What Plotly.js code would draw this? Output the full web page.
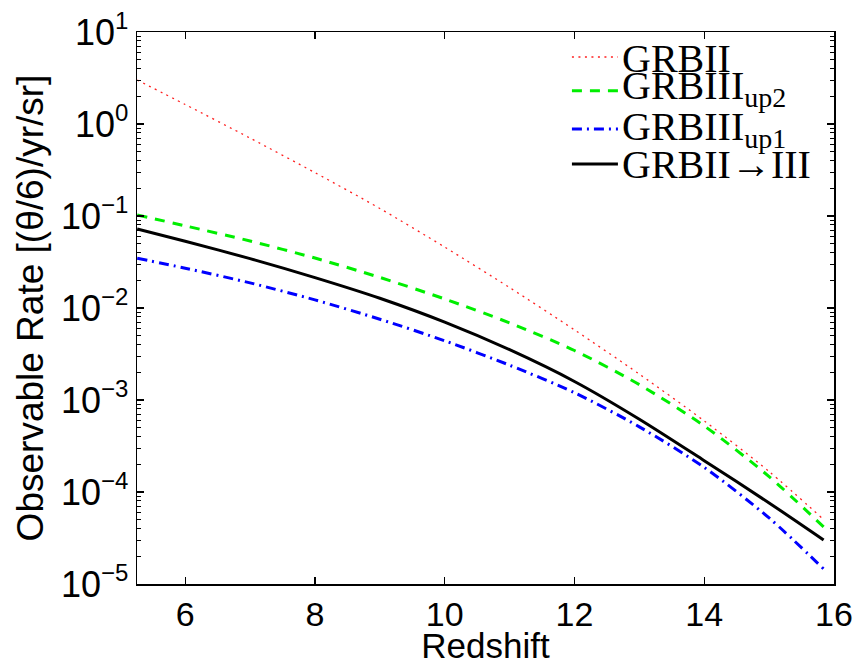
<!DOCTYPE html>
<html>
<head>
<meta charset="utf-8">
<script src="https://cdn.plot.ly/plotly-3.0.1.min.js"></script>
<style>html,body{margin:0;padding:0;background:#fff;}#chart{width:859px;height:665px;}</style>
</head>
<body>
<div id="chart"></div>
<script>
// Redshift samples
const redshift = [5.26, 6, 7, 8, 9, 10, 11, 12, 13, 14, 15, 15.84];
// Observable rate [(theta/6)/yr/sr]
const grbII      = [3.006, 1.629, 0.703, 0.296, 0.1208, 0.0459, 0.01667, 0.00578, 0.00191, 5.92e-4, 1.67e-4, 5.02e-5];
const grbIIIup2  = [0.1026, 0.0782, 0.0535, 0.0349, 0.0215, 0.01253, 0.00689, 0.00345, 0.00147, 5.22e-4, 1.47e-4, 4.17e-5];
const grbIIIup1  = [0.0347, 0.0271, 0.01875, 0.01225, 0.00755, 0.00440, 0.00239, 0.00120, 5.11e-4, 1.85e-4, 5.22e-5, 1.46e-5];
const grbIItoIII = [0.0723, 0.0532, 0.0344, 0.0214, 0.01276, 0.00702, 0.00352, 0.00159, 6.18e-4, 2.19e-4, 7.60e-5, 3.01e-5];

const xTicks = [6, 8, 10, 12, 14, 16];
const yExps = [-5, -4, -3, -2, -1, 0, 1];
const legendNames = ['GRBII', 'GRBIII<sub>up2</sub>', 'GRBIII<sub>up1</sub>', 'GRBII\u2192III'];

const styles = [
  {color: '#ff2020', width: 1.3, dash: '2px,4.5px'},
  {color: '#00ee00', width: 3, dash: '10px,8px'},
  {color: '#0000ff', width: 3, dash: '10px,5px,2px,5px'},
  {color: '#000000', width: 3, dash: 'solid'}
];
const series = [grbII, grbIIIup2, grbIIIup1, grbIItoIII];

const traces = series.map((ys, i) => ({
  x: redshift, y: ys, type: 'scatter', mode: 'lines',
  line: Object.assign({shape: 'spline', smoothing: 0.8}, styles[i]),
  name: legendNames[i], showlegend: false, hoverinfo: 'skip'
}));

const yTickVals = yExps.map(e => Math.pow(10, e));
const yTickText = yExps.map(e => '10<sup><span style="font-size:24px">' + (e < 0 ? '\u2212' + (-e) : e) + '</span></sup>');
const minorVals = [];
for (let e = -5; e < 1; e++) for (let m = 2; m <= 9; m++) minorVals.push(m * Math.pow(10, e));

// custom legend (text + sample lines)
const legX0 = 0.624, legX1 = 0.690, legTextX = 0.693;
const legLineY = [0.9547, 0.8937, 0.8243, 0.7609];
const legTextY = [0.952, 0.899, 0.825, 0.760];
const shapes = styles.map((s, i) => ({
  type: 'line', xref: 'paper', yref: 'paper', x0: legX0, x1: legX1, y0: legLineY[i], y1: legLineY[i],
  line: {color: s.color, width: s.width, dash: s.dash}
}));
const annotations = legendNames.map((t, i) => ({
  xref: 'paper', yref: 'paper', x: legTextX, y: legTextY[i], xanchor: 'left', yanchor: 'middle',
  text: t, showarrow: false, font: {family: 'Liberation Serif, Times New Roman, serif', size: 40, color: '#000'}
}));

const layout = {
  width: 859, height: 665,
  margin: {l: 137, r: 25, t: 32, b: 81},
  paper_bgcolor: '#fff', plot_bgcolor: '#fff',
  font: {family: 'Liberation Sans, Arial, sans-serif', color: '#000'},
  xaxis: {
    range: [5.257, 16.0], tickvals: xTicks, ticks: 'inside', ticklen: 7, tickwidth: 1.2, tickcolor: '#000',
    showline: true, linecolor: '#000', linewidth: 1.5, mirror: 'ticks', showgrid: false, zeroline: false,
    tickfont: {size: 34}, title: {text: 'Redshift', font: {size: 35}, standoff: 8}
  },
  yaxis: {
    type: 'log', range: [-5, 1], tickvals: yTickVals, ticktext: yTickText,
    ticks: 'inside', ticklen: 7, tickwidth: 1.2, tickcolor: '#000',
    minor: {tickvals: minorVals, ticks: 'inside', ticklen: 4, tickwidth: 1, tickcolor: '#000', showgrid: false},
    showline: true, linecolor: '#000', linewidth: 1.5, mirror: 'ticks', showgrid: false, zeroline: false,
    tickfont: {size: 36}, title: {text: 'Observable Rate [(\u03b8/6)/yr/sr]', font: {size: 37}, standoff: 6}
  },
  shapes: shapes,
  annotations: annotations,
  showlegend: false
};

Plotly.newPlot('chart', traces, layout, {staticPlot: true, displayModeBar: false});
</script>
</body>
</html>
